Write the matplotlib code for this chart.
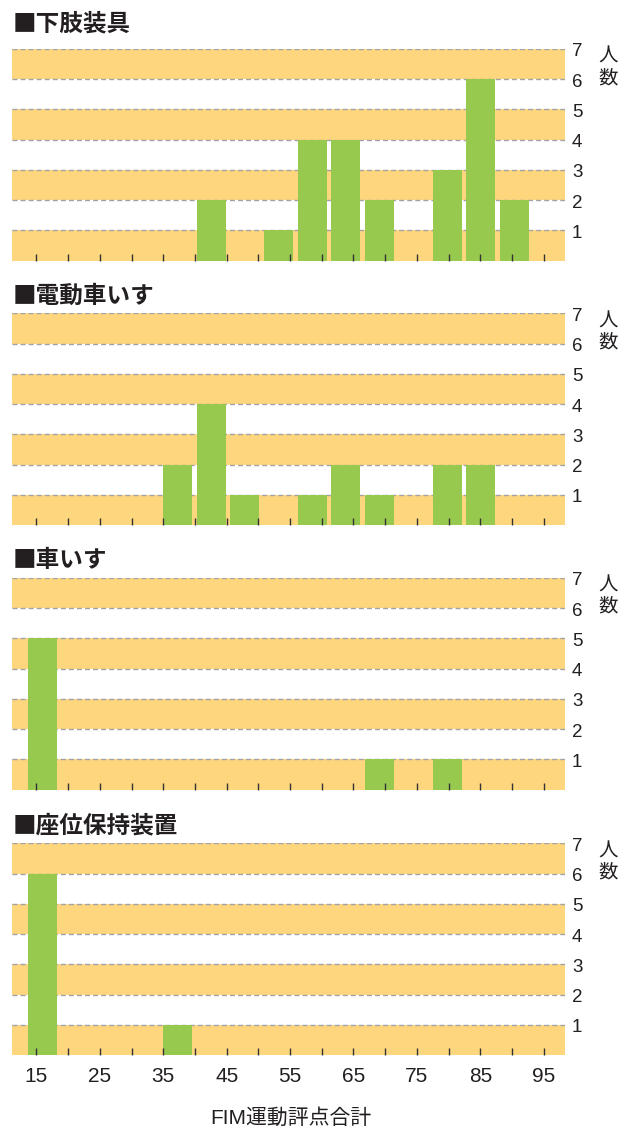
import matplotlib
matplotlib.use('Agg')
import matplotlib.pyplot as plt
from matplotlib.transforms import ScaledTranslation

plt.rcParams['font.family'] = ['Liberation Sans', 'Noto Sans CJK JP', 'DejaVu Sans']

# FIM motor score bins (bin start) and number of people per bin
bins = [15, 20, 25, 30, 35, 40, 45, 50, 55, 60, 65, 70, 75, 80, 85, 90, 95]
lower_limb = [0, 0, 0, 0, 0, 2, 0, 1, 4, 4, 2, 0, 3, 6, 2, 0, 0]
power_wc   = [0, 0, 0, 0, 2, 4, 1, 0, 1, 2, 1, 0, 2, 2, 0, 0, 0]
wheelchair = [5, 0, 0, 0, 0, 0, 0, 0, 0, 0, 1, 0, 1, 0, 0, 0, 0]
seating    = [6, 0, 0, 0, 1, 0, 0, 0, 0, 0, 0, 0, 0, 0, 0, 0, 0]

titles = ['■下肢装具', '■電動車いす', '■車いす', '■座位保持装置']
y_ticks = [1, 2, 3, 4, 5, 6, 7]
x_labels = [15, 25, 35, 45, 55, 65, 75, 85, 95]
x_minor = [20, 30, 40, 50, 60, 70, 80, 90]

ORANGE = '#fdd67d'
GREEN = '#98c94f'
GRID = '#a3a3a3'
TEXT = '#231f20'

W, H = 632, 1129
fig = plt.figure(figsize=(W / 100, H / 100), dpi=100)

# bar slots and score ticks in the original are not on the same spacing
IDX15, SLOPE = -0.187, 0.1882
def to_score(i):
    return 15 + (i - IDX15) / SLOPE
def to_idx(s):
    return IDX15 + SLOPE * (s - 15)

left_px, right_px = 12, 565
bottoms_px = [260.7, 525, 789.5, 1055]
height_px = 211.7
title_gap = [26, 18, 18, 18]

data = [lower_limb, power_wc, wheelchair, seating]
pos = list(range(len(bins)))

for n, (counts, title) in enumerate(zip(data, titles)):
    b = bottoms_px[n]
    ax = fig.add_axes([left_px / W, (H - b) / H, (right_px - left_px) / W, height_px / H])
    for lo in range(0, 7, 2):
        ax.axhspan(lo, lo + 1, color=ORANGE, lw=0, zorder=0)
    for v in y_ticks:
        ax.axhline(v, color=GRID, lw=1, dashes=(3.6, 2.2), zorder=0.5)
    ax.bar(pos, counts, width=0.86, color=GREEN, zorder=1)
    ax.set_xlim(-0.911, 15.50)
    ax.set_ylim(0, 7)
    for s in ax.spines.values():
        s.set_visible(False)
    ax.set_xticks([])
    ax.yaxis.tick_right()
    ax.set_yticks(y_ticks)
    ax.tick_params(axis='y', length=0, pad=5, labelsize=13.5, labelcolor=TEXT)
    for lab in ax.get_yticklabels():
        lab.set_transform(lab.get_transform() + ScaledTranslation(0, -1 / 100, fig.dpi_scale_trans))

    sec = ax.secondary_xaxis('bottom', functions=(to_score, to_idx))
    sec.set_zorder(5)
    sec.patch.set_visible(False)
    sec.spines['bottom'].set_visible(False)
    if n == 3:
        sec.set_xticks(x_labels, labels=[str(v) for v in x_labels])
    else:
        sec.set_xticks(x_labels, labels=['' for v in x_labels])
    sec.set_xticks(x_minor, minor=True)
    sec.tick_params(which='both', direction='in', length=5, width=1, color='#333333',
                    pad=8.5, labelsize=15, labelcolor=TEXT)

    ax.annotate('人\n数', xy=(1, 1), xycoords='axes fraction',
                xytext=(33 * 0.72, 3 * 0.72), textcoords='offset points',
                ha='left', va='top', fontsize=14, color=TEXT, linespacing=1.0,
                family=['Noto Sans CJK JP', 'DejaVu Sans'])
    ax.annotate(title, xy=(0, 1), xycoords='axes fraction',
                xytext=(1 * 0.72, title_gap[n] * 0.72), textcoords='offset points',
                ha='left', va='center', fontsize=17, fontweight='bold', color=TEXT,
                family=['Noto Sans CJK JP', 'DejaVu Sans'])

fig.text(291 / W, (H - 1118.5) / H, 'FIM運動評点合計', ha='center', va='center',
         fontsize=15, color=TEXT)

fig.savefig('out.png', dpi=100)
